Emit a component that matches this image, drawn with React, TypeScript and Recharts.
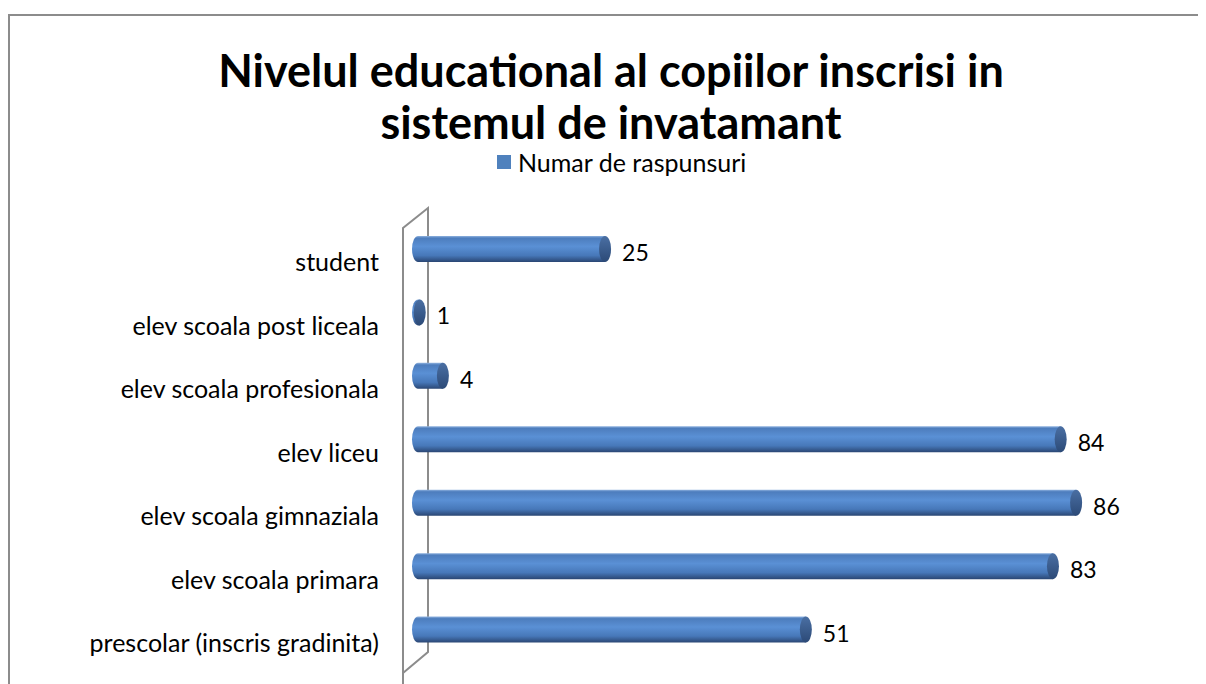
import React from 'react';
import * as R from 'recharts';
import { BarChart, Bar, XAxis, YAxis, LabelList, Legend } from 'recharts';

const categories = [
  'student',
  'elev scoala post liceala',
  'elev scoala profesionala',
  'elev liceu',
  'elev scoala gimnaziala',
  'elev scoala primara',
  'prescolar (inscris gradinita)',
];
const values = [25, 1, 4, 84, 86, 83, 51];
const seriesName = 'Numar de raspunsuri';
const titleLines = ['Nivelul educational al copiilor inscrisi in', 'sistemul de invatamant'];

const data = categories.map((c, i) => ({ name: c, value: values[i] }));

const FONT = 'Lato, "Open Sans", sans-serif';
const CAP_RX = 6;

const Cyl = (props: any) => {
  const { x, y, width, height } = props;
  if (width == null || height == null) return null;
  const ry = height / 2;
  const rx = CAP_RX;
  const x0 = x + rx;
  const x1 = Math.max(x + width, x0);
  const body = `M ${x1} ${y} L ${x0} ${y} A ${rx} ${ry} 0 0 0 ${x0} ${y + height} L ${x1} ${y + height} Z`;
  return (
    <g>
      <path d={body} fill="url(#cylGrad)" />
      <ellipse cx={x1} cy={y + ry} rx={rx} ry={ry} fill="url(#capGrad)" />
    </g>
  );
};

const ValueLabel = (props: any) => {
  const { x, y, width, height, value } = props;
  return (
    <text
      x={x + width + 17}
      y={y + height / 2 + 4}
      dy="0.35em"
      textAnchor="start"
      fontSize={23}
      fill="#000"
      fontFamily={FONT}
    >
      {value}
    </text>
  );
};

const Tick = (props: any) => {
  const { x, y, payload } = props;
  return (
    <text x={x - 33} y={y + 14} dy="0.35em" textAnchor="end" fontSize={25} fill="#000" fontFamily={FONT}>
      {payload.value}
    </text>
  );
};

const Wall = () => {
  const hook = (R as any).usePlotArea;
  const area = hook ? hook() : null;
  const px = area ? area.x : 404;
  const py = area ? area.y : 209;
  const ph = area ? area.height : 464;
  const d = `M ${px - 9} ${py + ph + 30} L ${px - 9} ${py + 11} L ${px + 16} ${py - 9} L ${px + 16} ${py + ph - 9} L ${px - 9} ${py + ph + 12}`;
  return <path d={d} fill="none" stroke="#8c8c8c" strokeWidth={2} />;
};

const LegendContent = () => (
  <div style={{ display: 'flex', alignItems: 'center', height: 20, fontFamily: FONT, fontSize: 25, lineHeight: '20px', color: '#000' }}>
    <span style={{ display: 'inline-block', width: 14, height: 14, background: '#4f81bd', marginRight: 7 }} />
    <span>{seriesName}</span>
  </div>
);

const titleStyle: React.CSSProperties = {
  position: 'absolute',
  left: 4,
  width: 1198,
  textAlign: 'center',
  fontWeight: 700,
  fontSize: 45,
  lineHeight: '46px',
  height: 46,
  color: '#000',
  whiteSpace: 'nowrap',
};

export default function App() {
  return (
    <div style={{ position: 'relative', width: 1198, height: 676, fontFamily: FONT, overflow: 'hidden' }}>
      <div
        style={{
          position: 'absolute',
          left: 0,
          top: 6,
          width: 1198,
          height: 670,
          borderLeft: '2px solid #8c8c8c',
          borderTop: '2px solid #8c8c8c',
          boxSizing: 'border-box',
        }}
      />
      <div style={{ ...titleStyle, top: 39 }}>{titleLines[0]}</div>
      <div style={{ ...titleStyle, top: 91 }}>{titleLines[1]}</div>
      <div style={{ position: 'absolute', left: 0, top: 0 }}>
        <BarChart
          width={1198}
          height={676}
          layout="vertical"
          data={data}
          margin={{ top: 209, right: 99, bottom: 3, left: 0 }}
          barCategoryGap={0}
        >
          <defs>
            <linearGradient id="cylGrad" x1="0" y1="0" x2="0" y2="1">
              <stop offset="0%" stopColor="#8fb2df" />
              <stop offset="8%" stopColor="#4d7dbd" />
              <stop offset="40%" stopColor="#5a90d5" />
              <stop offset="75%" stopColor="#4778b9" />
              <stop offset="100%" stopColor="#2a4673" />
            </linearGradient>
            <linearGradient id="capGrad" x1="0" y1="0" x2="0" y2="1">
              <stop offset="0%" stopColor="#4a6fa3" />
              <stop offset="100%" stopColor="#2c4a77" />
            </linearGradient>
          </defs>
          <XAxis type="number" domain={[0, 90]} hide />
          <YAxis
            type="category"
            dataKey="name"
            width={404}
            axisLine={false}
            tickLine={false}
            tickSize={0}
            tickMargin={0}
            tick={<Tick />}
            interval={0}
          />
          <Legend
            content={<LegendContent />}
            wrapperStyle={{ position: 'absolute', top: 144, left: 489, width: 320, height: 20 }}
          />
          <Wall />
          <Bar dataKey="value" name={seriesName} barSize={26} shape={<Cyl />} isAnimationActive={false}>
            <LabelList dataKey="value" content={<ValueLabel />} />
          </Bar>
        </BarChart>
      </div>
    </div>
  );
}
